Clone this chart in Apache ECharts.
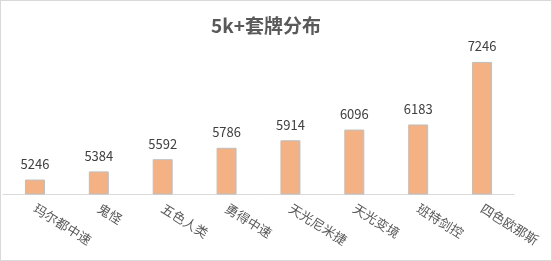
<!DOCTYPE html>
<html><head><meta charset="utf-8">
<script src="https://cdn.jsdelivr.net/npm/echarts@6/dist/echarts.min.js"></script>
<style>html,body{margin:0;padding:0;background:#fff}#c{width:552px;height:261px;box-sizing:border-box;border:1px solid #d9d9d9}</style>
</head><body><div id="c"></div>
<script>
const categories = ['玛尔都中速','鬼怪','五色人类','勇得中速','天光尼米捷','天光变境','班特剑控','四色欧那斯'];
const values = [5246,5384,5592,5786,5914,6096,6183,7246];
const titleText = '5k+套牌分布';
const chart = echarts.init(document.getElementById('c'), null, {renderer:'canvas'});
chart.setOption({
  animation:false,
  title:{text:titleText,top:10,left:260,textAlign:'center',textStyle:{fontSize:19,fontWeight:'bold',color:'#595959',fontFamily:'"Noto Sans CJK SC", sans-serif'}},
  grid:{left:2,right:37,top:46,bottom:66},
  xAxis:{type:'category',data:categories,
    axisLine:{lineStyle:{color:'#d9d9d9'}},axisTick:{show:false},
    axisLabel:{rotate:-32,interval:0,color:'#595959',fontSize:13,margin:13,fontFamily:'"Noto Sans CJK SC", sans-serif'}},
  yAxis:{type:'value',min:5000,max:7500,show:false,splitLine:{show:false}},
  series:[{type:'bar',data:values,barWidth:20,
    itemStyle:{color:'#F4B183',borderColor:'#bfbfbf',borderWidth:1},
    label:{show:true,position:'top',distance:9,color:'#404040',fontSize:13,fontFamily:'"Noto Sans CJK SC", sans-serif'}}]
});
</script></body></html>
